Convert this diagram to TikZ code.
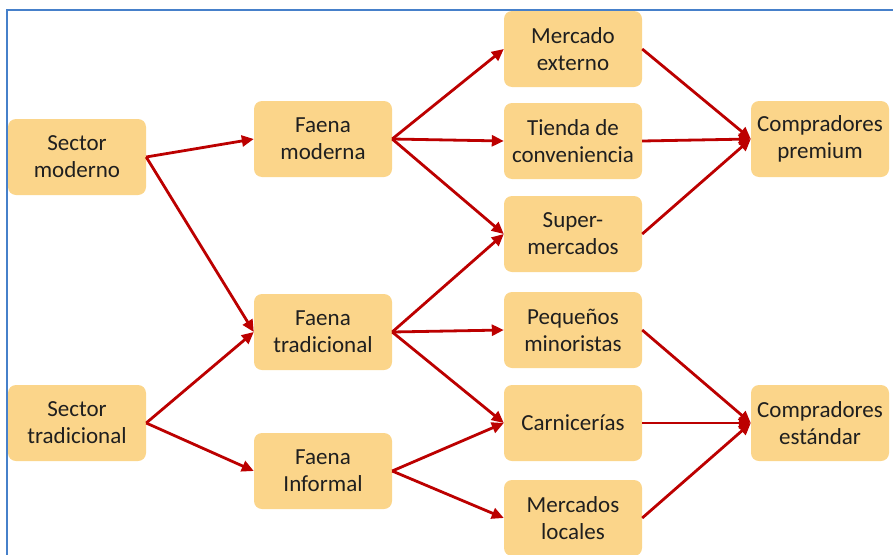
\documentclass[tikz,border=0pt]{standalone}
\usepackage{fontspec}
\setmainfont{Carlito}
\usetikzlibrary{arrows.meta}
\usetikzlibrary{positioning}

\definecolor{cajafondo}{RGB}{251,213,138}
\definecolor{flecha}{RGB}{188,0,0}
\definecolor{marco}{RGB}{70,128,202}

\tikzset{
    caja/.style = {fill=cajafondo, rounded corners=8pt, minimum width=138pt,
        minimum height=76pt, align=center, inner sep=2pt,
        font=\fontsize{23}{27}\selectfont, text=black!88},
    flujo/.style = {draw=flecha, line width=2.8pt, -{Triangle[length=12pt,width=11pt]}}
}

\begin{document}
\begin{tikzpicture}[x=1pt, y=-1pt]
    \useasboundingbox (0,0) rectangle (893,554);
    \draw[marco, line width=2pt] (7,600) -- (7,10) -- (950,10);

    % origen
    \node[caja] (sm) at (77,157) {Sector\\moderno};
    \node[caja] (st) at (77,423) {Sector\\tradicional};
    % faenas
    \node[caja] (fm) at (323,139) {Faena\\moderna};
    \node[caja] (ft) at (323,332) {Faena\\tradicional};
    \node[caja] (fi) at (323,471) {Faena\\Informal};
    % canales
    \node[caja] (me) at (573,49) {Mercado\\externo};
    \node[caja] (tc) at (573,141) {Tienda de\\conveniencia};
    \node[caja] (su) at (573,234) {Super-\\mercados};
    \node[caja] (pm) at (573,330) {Pequeños\\minoristas};
    \node[caja] (ca) at (573,423) {Carnicerías};
    \node[caja] (ml) at (573,518) {Mercados\\locales};
    % compradores
    \node[caja] (cp) at (820,139) {Compradores\\premium};
    \node[caja] (ce) at (820,423) {Compradores\\estándar};

    \draw[flujo] (sm.east) -- (fm.west);
    \draw[flujo] (sm.east) -- (ft.west);
    \draw[flujo] (st.east) -- (ft.west);
    \draw[flujo] (st.east) -- (fi.west);

    \draw[flujo] (fm.east) -- (me.west);
    \draw[flujo] (fm.east) -- (tc.west);
    \draw[flujo] (fm.east) -- (su.west);
    \draw[flujo] (ft.east) -- (su.west);
    \draw[flujo] (ft.east) -- (pm.west);
    \draw[flujo] (ft.east) -- (ca.west);
    \draw[flujo] (fi.east) -- (ca.west);
    \draw[flujo] (fi.east) -- (ml.west);

    \draw[flujo] (me.east) -- (cp.west);
    \draw[flujo] (tc.east) -- (cp.west);
    \draw[flujo] (su.east) -- (cp.west);
    \draw[flujo] (pm.east) -- (ce.west);
    \draw[flujo] (ca.east) -- (ce.west);
    \draw[flujo] (ml.east) -- (ce.west);
\end{tikzpicture}
\end{document}
